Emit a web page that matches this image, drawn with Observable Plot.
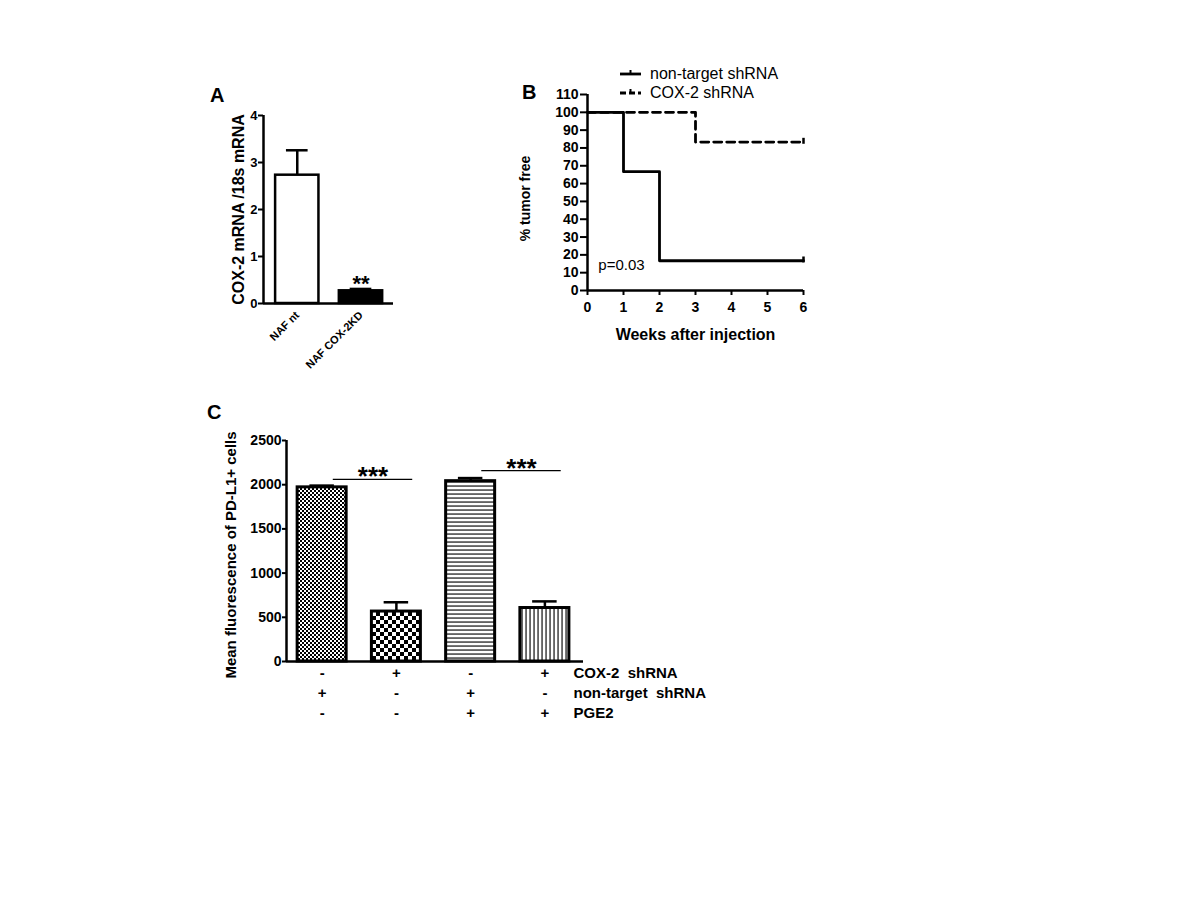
<!DOCTYPE html>
<html>
<head>
<meta charset="utf-8">
<script src="https://cdn.jsdelivr.net/npm/d3@7"></script>
<script src="https://cdn.jsdelivr.net/npm/@observablehq/plot@0.6"></script>
<style>
  body { margin: 0; background: #fff; }
  #root { position: relative; width: 1200px; height: 900px; background: #fff; overflow: hidden;
          font-family: Arial, "Liberation Sans", sans-serif; color: #000; }
  .panel { position: absolute; }
  .letter { position: absolute; font-weight: bold; font-size: 20px; line-height: 20px; }
  .legend { position: absolute; font-size: 16px; line-height: 19px; }
  .legend div { display: flex; align-items: center; white-space: nowrap; }
  .legend svg { margin-right: 8px; }
  svg text { white-space: pre; }
</style>
</head>
<body>
<div id="root">
  <svg width="0" height="0" style="position:absolute">
    <defs>
      <pattern id="fineChecker" width="4" height="4" patternUnits="userSpaceOnUse">
        <rect width="4" height="4" fill="#fff"/>
        <rect width="2" height="2" fill="#000"/>
        <rect x="2" y="2" width="2" height="2" fill="#000"/>
      </pattern>
      <pattern id="coarseChecker" width="8" height="8" patternUnits="userSpaceOnUse">
        <rect width="8" height="8" fill="#fff"/>
        <rect width="4" height="4" fill="#000"/>
        <rect x="4" y="4" width="4" height="4" fill="#000"/>
      </pattern>
      <pattern id="hLines" width="4" height="4" patternUnits="userSpaceOnUse">
        <rect width="4" height="4" fill="#fff"/>
        <rect y="1.4" width="4" height="1.3" fill="#222"/>
      </pattern>
      <pattern id="vLines" width="4" height="4" patternUnits="userSpaceOnUse">
        <rect width="4" height="4" fill="#fff"/>
        <rect x="1.4" width="1.3" height="4" fill="#222"/>
      </pattern>
    </defs>
  </svg>
  <div class="letter" style="left:210px;top:85px">A</div>
  <div class="letter" style="left:522px;top:82px">B</div>
  <div class="letter" style="left:207px;top:402px">C</div>
  <div class="panel" id="panelA" style="left:200px;top:100px"></div>
  <div class="panel" id="panelB" style="left:500px;top:60px"></div>
  <div class="panel" id="panelC" style="left:200px;top:420px"></div>
  <div class="legend" id="legendB" style="left:619px;top:64px"></div>
</div>
<script>
// ---------- Panel A data ----------
const aCategories = ["NAF nt", "NAF COX-2KD"];
const aMeans = [2.73, 0.27];
const aSem = [0.53, 0.04];
const aStars = ["", "**"];
const aTicks = [0, 1, 2, 3, 4];
const aYLabel = "COX-2 mRNA /18s mRNA";

// ---------- Panel B data ----------
const bWeekTicks = [0, 1, 2, 3, 4, 5, 6];
const bPctTicks = [0, 10, 20, 30, 40, 50, 60, 70, 80, 90, 100, 110];
const bSeriesNames = ["non-target shRNA", "COX-2 shRNA"];
const bNonTargetWeeks = [0, 1, 2, 6];
const bNonTargetPct = [100, 66.7, 16.7, 16.7];
const bCoxWeeks = [0, 3, 6];
const bCoxPct = [100, 83.3, 83.3];
const bPText = "p=0.03";
const bPWeek = 0.3, bPPct = 14;
const bXLabel = "Weeks after injection";
const bYLabel = "% tumor free";

// ---------- Panel C data ----------
const cMeans = [1970, 565, 2040, 605];
const cSem = [20, 105, 35, 75];
const cTicks = [0, 500, 1000, 1500, 2000, 2500];
const cRowLabels = ["COX-2  shRNA", "non-target  shRNA", "PGE2"];
const cCox = ["-", "+", "-", "+"];
const cNonTarget = ["+", "-", "+", "-"];
const cPGE2 = ["-", "-", "+", "+"];
const cComparisons = [
  {from: 1, to: 2, level: 2060, label: "***"},
  {from: 3, to: 4, level: 2160, label: "***"}
];
const cYLabel = "Mean fluorescence of PD-L1+ cells";

// ---------- styles (not data) ----------
const FONT = 'Arial, "Liberation Sans", sans-serif';
const aFills = ["white", "black"];
const cFills = ["url(#fineChecker)", "url(#coarseChecker)", "url(#hLines)", "url(#vLines)"];
const baseStyle = {fontFamily: FONT, background: "transparent", overflow: "visible", color: "black"};
const intFmt = d => String(d);

// ---------- Panel A ----------
const dA = aCategories.map((name, i) => ({pos: i + 1, name, mean: aMeans[i], sem: aSem[i], star: aStars[i]}));
const aX0 = 0.47;
const plotA = Plot.plot({
  width: 200, height: 290,
  marginLeft: 63, marginRight: 7, marginTop: 15, marginBottom: 87,
  style: {...baseStyle, fontSize: "13px"},
  x: {domain: [aX0, 2.51]},
  y: {domain: [0, 4]},
  color: {type: "identity"},
  marks: [
    Plot.ruleX(dA, {x: "pos", y1: "mean", y2: d => d.mean + d.sem, strokeWidth: 2.5}),
    Plot.ruleY(dA, {y: d => d.mean + d.sem, x1: d => d.pos - 0.17, x2: d => d.pos + 0.17, strokeWidth: 2.5}),
    Plot.rectY(dA, {x1: d => d.pos - 0.34, x2: d => d.pos + 0.34, y1: 0, y2: "mean",
      fill: (d, i) => aFills[i], stroke: "black", strokeWidth: 2.5}),
    Plot.text(dA, {x: "pos", y: d => d.mean + d.sem, text: "star", dy: 2, lineAnchor: "bottom",
      fontSize: 22, fontWeight: "bold"}),
    Plot.ruleX([aX0], {y1: 0, y2: 4, strokeWidth: 2.5}),
    Plot.ruleY([0], {strokeWidth: 2.5}),
    Plot.axisY({ticks: aTicks, tickFormat: intFmt, tickSize: 5, tickPadding: 1, strokeWidth: 2,
      fontWeight: "bold", fontSize: 13, label: null}),
    Plot.axisX({ticks: [1, 2], tickFormat: v => aCategories[v - 1], tickSize: 0, tickPadding: 10, tickRotate: -45,
      fontWeight: "bold", fontSize: 11, label: null}),
    Plot.text([aYLabel], {frameAnchor: "left", rotate: -90, dx: -31, lineAnchor: "top", textAnchor: "middle",
      fontWeight: "bold", fontSize: 16})
  ]
});
document.getElementById("panelA").appendChild(plotA);

// ---------- Panel B ----------
const dNT = bNonTargetWeeks.map((w, i) => ({week: w, pct: bNonTargetPct[i]}));
const dCox = bCoxWeeks.map((w, i) => ({week: w, pct: bCoxPct[i]}));
const censorSymbol = {draw(ctx, size) { const r = Math.sqrt(size) * 0.8; ctx.moveTo(0, -r); ctx.lineTo(0, r * 0.4); }};
const plotB = Plot.plot({
  width: 320, height: 290,
  marginLeft: 87, marginRight: 17, marginTop: 34, marginBottom: 60,
  style: {...baseStyle, fontSize: "14px"},
  x: {domain: [0, 6]},
  y: {domain: [0, 110]},
  marks: [
    Plot.line(dCox, {x: "week", y: "pct", curve: "step-after", strokeWidth: 2.8, strokeDasharray: "8,5"}),
    Plot.line(dNT, {x: "week", y: "pct", curve: "step-after", strokeWidth: 2.8}),
    Plot.dot([dNT[dNT.length - 1], dCox[dCox.length - 1]], {x: "week", y: "pct", symbol: censorSymbol, r: 3,
      stroke: "black", strokeWidth: 2.5, fill: "none"}),
    Plot.ruleX([0], {y1: 0, y2: 110, strokeWidth: 2.5}),
    Plot.ruleY([0], {strokeWidth: 2.5}),
    Plot.axisY({ticks: bPctTicks, tickFormat: intFmt, tickSize: 7, tickPadding: 2, strokeWidth: 2,
      fontWeight: "bold", fontSize: 14, label: null}),
    Plot.axisX({ticks: bWeekTicks, tickFormat: intFmt, tickSize: 5, tickPadding: 7, strokeWidth: 2,
      fontWeight: "bold", fontSize: 14, label: null}),
    Plot.text([bPText], {x: bPWeek, y: bPPct, textAnchor: "start", fontSize: 15}),
    Plot.text([bXLabel], {frameAnchor: "bottom", dy: 49, lineAnchor: "bottom", textAnchor: "middle",
      fontWeight: "bold", fontSize: 16}),
    Plot.text([bYLabel], {frameAnchor: "left", rotate: -90, dx: -67, dy: 6, lineAnchor: "top", textAnchor: "middle",
      fontWeight: "bold", fontSize: 14})
  ]
});
document.getElementById("panelB").appendChild(plotB);

// legend for B
const legend = document.getElementById("legendB");
bSeriesNames.forEach((name, i) => {
  const row = document.createElement("div");
  const dash = i === 0 ? "" : 'stroke-dasharray="6,3"';
  row.innerHTML = `<svg width="23" height="10"><line x1="1" y1="5" x2="22" y2="5" stroke="black" stroke-width="2.8" ${dash}/>` +
    `<line x1="11.5" y1="1" x2="11.5" y2="6" stroke="black" stroke-width="2"/></svg><span>${name}</span>`;
  legend.appendChild(row);
});

// ---------- Panel C ----------
const dC = cMeans.map((m, i) => ({pos: i + 1, mean: m, sem: cSem[i]}));
const cX0 = 0.52, cX1 = 4.52;
const tableRows = [cCox, cNonTarget, cPGE2];
const plotC = Plot.plot({
  width: 600, height: 310,
  marginLeft: 86, marginRight: 217, marginTop: 20, marginBottom: 69,
  style: {...baseStyle, fontSize: "14px"},
  x: {domain: [cX0, cX1], axis: null},
  y: {domain: [0, 2500]},
  color: {type: "identity"},
  marks: [
    Plot.ruleX(dC, {x: "pos", y1: "mean", y2: d => d.mean + d.sem, strokeWidth: 2.5}),
    Plot.ruleY(dC, {y: d => d.mean + d.sem, x1: d => d.pos - 0.165, x2: d => d.pos + 0.165, strokeWidth: 2.5}),
    Plot.rectY(dC, {x1: d => d.pos - 0.33, x2: d => d.pos + 0.33, y1: 0, y2: "mean",
      fill: (d, i) => cFills[i], stroke: "black", strokeWidth: 3}),
    Plot.ruleY(cComparisons, {y: "level", x1: d => d.from + 0.15, x2: d => d.to + 0.22, strokeWidth: 1.2}),
    Plot.text(cComparisons, {x: d => (d.from + 0.15 + d.to + 0.22) / 2, y: "level", text: "label",
      dy: 6, lineAnchor: "bottom", fontSize: 26, fontWeight: "bold"}),
    Plot.ruleX([cX0], {y1: 0, y2: 2500, strokeWidth: 2.5}),
    Plot.ruleY([0], {strokeWidth: 2.5}),
    Plot.axisY({ticks: cTicks, tickFormat: intFmt, tickSize: 4, tickPadding: 1, strokeWidth: 2,
      fontWeight: "bold", fontSize: 14, label: null}),
    Plot.text([cYLabel], {frameAnchor: "left", rotate: -90, dx: -61, dy: 4, lineAnchor: "top", textAnchor: "middle",
      fontWeight: "bold", fontSize: 15}),
    ...tableRows.flatMap((signs, r) => [
      Plot.text(signs, {x: (d, i) => i + 1, text: d => d, frameAnchor: "bottom", dy: 16 + 20 * r,
        fontWeight: "bold", fontSize: 15}),
      Plot.text([cRowLabels[r]], {frameAnchor: "bottom-right", dx: -10, dy: 16 + 20 * r, textAnchor: "start",
        fontWeight: "bold", fontSize: 15})
    ])
  ]
});
document.getElementById("panelC").appendChild(plotC);
</script>
</body>
</html>
